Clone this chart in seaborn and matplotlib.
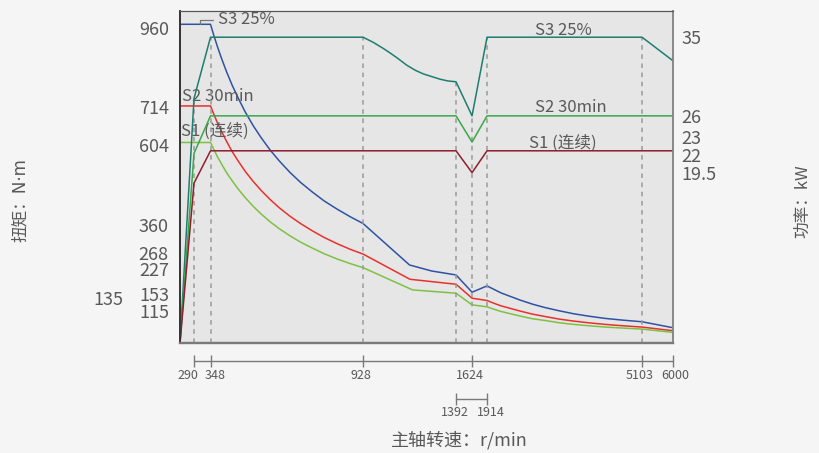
import numpy as np
import pandas as pd
import matplotlib
matplotlib.use("Agg")
import matplotlib.pyplot as plt
import matplotlib.transforms as mtransforms
import seaborn as sns

# ---- speed axis: piecewise-linear spacing between the marked speeds ----
axis_rpm = [0, 290, 348, 928, 1392, 1624, 1914, 5103, 6000]
axis_span = [0, 14, 30.5, 183, 276, 292, 307, 462, 493]

# ---- torque curves (N·m) ----
t_rpm = [0, 348, 360, 375, 390, 410, 430, 455, 480, 510, 540, 575, 610, 650, 690,
         735, 780, 830, 880, 928]
t_rpm_tail = [1914, 2050, 2200, 2400, 2600, 2850, 3100, 3400, 3700, 4000, 4350,
              4700, 5103, 6000]

s3_t_rpm = t_rpm + [1160, 1270, 1392, 1624] + t_rpm_tail
s3_torque = [960, 960, 928, 891, 857, 815, 777, 735, 696, 655, 619, 581, 548, 514, 484,
             455, 428, 403, 380, 360,
             235, 217, 205, 153,
             172, 162, 151, 140, 129, 117, 107, 97, 88, 81, 74, 69, 64, 46]

s2_t_rpm = t_rpm + [1162, 1392, 1624] + t_rpm_tail
s2_torque = [714, 714, 690, 662, 637, 606, 577, 546, 517, 487, 460, 432, 407, 382, 360,
             338, 318, 299, 282, 268,
             192, 177, 135,
             128, 120, 112, 104, 96, 87, 80, 72, 66, 61, 56, 52, 48, 37]

s1_t_rpm = t_rpm + [1175, 1392, 1624] + t_rpm_tail
s1_torque = [604, 604, 584, 560, 539, 512, 489, 462, 438, 412, 389, 365, 344, 323, 304,
             286, 269, 253, 239, 227,
             160, 150, 115,
             109, 102, 95, 88, 81, 73, 68, 61, 56, 52, 48, 45, 42, 32]

# ---- power curves (kW) ----
s3_p_rpm = [0, 290, 348, 928, 980, 1030, 1063, 1100, 1146, 1190, 1229, 1270, 1312,
            1350, 1392, 1624, 1914, 5103, 6000]
s3_power = [0, 28, 35, 35, 34.4, 33.7, 33.2, 32.6, 31.8, 31.2, 30.8, 30.5, 30.2,
            30.0, 29.9, 26, 35, 35, 32.3]

s2_p_rpm = [0, 290, 348, 1392, 1624, 1914, 6000]
s2_power = [0, 21.7, 26, 26, 23, 26, 26]

s1_p_rpm = [0, 290, 348, 1392, 1624, 1914, 6000]
s1_power = [0, 18.3, 22, 22, 19.5, 22, 22]

# ---- guide lines and tick labels ----
guide_rpm = [290, 348, 928, 1392, 1624, 1914, 5103]
guide_top = [28, 35, 35, 29.9, 26, 35, 35]

torque_ticks = [960, 714, 604, 360, 268, 227, 153, 115, 135]
power_ticks = [35, 26, 23, 22, 19.5]
ruler_main = [290, 348, 928, 1624, 5103, 6000]
ruler_sub = [1392, 1914]

c_blue = "#2f52a4"
c_red = "#e8312a"
c_lgreen = "#7dc142"
c_teal = "#1f7d70"
c_green = "#3aa84a"
c_dred = "#8c1f2c"
c_text = "#595959"

sns.set_style("white")
plt.rcParams["font.family"] = ["Noto Sans CJK SC", "DejaVu Sans"]

fig = plt.figure(figsize=(8.19, 4.53), dpi=100, facecolor="#f5f5f5")
ax = fig.add_axes([0.2198, 0.2428, 0.6020, 0.7329])
ax.set_facecolor("#e6e6e6")
ax2 = ax.twinx()

lw = 1.1
for xs, ys, c in [(s3_t_rpm, s3_torque, c_blue),
                  (s2_t_rpm, s2_torque, c_red),
                  (s1_t_rpm, s1_torque, c_lgreen)]:
    df = pd.DataFrame({"rpm": xs, "val": ys})
    sns.lineplot(data=df, x="rpm", y="val", ax=ax, color=c, lw=lw,
                 sort=False, estimator=None)

for xs, ys, c in [(s3_p_rpm, s3_power, c_teal),
                  (s2_p_rpm, s2_power, c_green),
                  (s1_p_rpm, s1_power, c_dred)]:
    df = pd.DataFrame({"rpm": xs, "val": ys})
    sns.lineplot(data=df, x="rpm", y="val", ax=ax2, color=c, lw=lw,
                 sort=False, estimator=None)

ax2.vlines(guide_rpm, 0, guide_top, colors="#9a9a9a", linestyles=(0, (3, 3)),
           lw=1.1, zorder=0)


def fwd(x):
    return np.interp(x, axis_rpm, axis_span)


def inv(u):
    return np.interp(u, axis_span, axis_rpm)


for a in (ax, ax2):
    a.set_xscale("function", functions=(fwd, inv))
    a.set_xlim(0, 6000)
    a.set_xlabel("")
    a.set_ylabel("")
    a.set_xticks([])
ax.set_ylim(0, 1000)
ax2.set_ylim(0, 38)

# spines
for a in (ax, ax2):
    a.spines["left"].set_color("#333333")
    a.spines["top"].set_color("#555555")
    a.spines["right"].set_color("#888888")
    a.spines["bottom"].set_color("#7a7a7a")
    a.spines["bottom"].set_linewidth(1.6)
    a.spines["left"].set_linewidth(1.2)
    a.spines["right"].set_linewidth(1.2)


def shift(lab, dx, dy):
    lab.set_transform(lab.get_transform() +
                      mtransforms.ScaledTranslation(dx / 100, dy / 100, fig.dpi_scale_trans))


# torque ticks
ax.set_yticks(torque_ticks)
ax.set_yticklabels([str(v) for v in torque_ticks])
ax.tick_params(axis="y", length=0, pad=8, labelsize=13, labelcolor=c_text)
left_shift = {960: (0, -4), 714: (0, -1), 604: (0, -2.5), 360: (0, -1.5),
              268: (0, 1.5), 227: (0, -1.5),
              153: (0, -1.5), 115: (0, -6), 135: (-46, 0)}
for lab, v in zip(ax.get_yticklabels(), torque_ticks):
    dx, dy = left_shift.get(v, (0, 0))
    shift(lab, dx, dy)

# power ticks
ax2.set_yticks(power_ticks)
ax2.set_yticklabels(["19.5" if v == 19.5 else str(int(v)) for v in power_ticks])
ax2.tick_params(axis="y", length=0, pad=6, labelsize=13, labelcolor=c_text)
right_shift = {23: (0, 5), 22: (0, -4)}
for lab, v in zip(ax2.get_yticklabels(), power_ticks):
    dx, dy = right_shift.get(v, (0, 0))
    shift(lab, dx, dy)

# curve labels
tk = dict(transform=ax.transAxes, color=c_text, fontsize=12, va="center", ha="left")
ax.text(0.0771, 0.973, "S3 25%", **tk)
ax.text(0.004, 0.744, "S2 30min", **tk)
ax.text(0.002, 0.6386, "S1 (连续)", **tk)
ax.text(0.720, 0.9398, "S3 25%", **tk)
ax.text(0.720, 0.7108, "S2 30min", **tk)
ax.text(0.708, 0.6024, "S1 (连续)", **tk)

# leader from the S3 label to its torque line
ax.plot([311, 311, 359], [960, 974, 974], color="#777777", lw=0.9, clip_on=False)

# speed rulers below the plot
blend = mtransforms.blended_transform_factory(ax.transData, ax.transAxes)
rk = dict(transform=blend, color="#7a7a7a", lw=1.0, clip_on=False)
ax.plot([ruler_main[0], ruler_main[-1]], [-0.0533, -0.0533], **rk)
ax.plot(ruler_main, [-0.0533] * len(ruler_main), ls="none", marker="|", ms=8,
        mew=1.0, color="#7a7a7a", transform=blend, clip_on=False)
ax.plot([ruler_sub[0], ruler_sub[-1]], [-0.1696, -0.1696], **rk)
ax.plot(ruler_sub, [-0.1696] * len(ruler_sub), ls="none", marker="|", ms=8,
        mew=1.0, color="#7a7a7a", transform=blend, clip_on=False)

rl = dict(transform=blend, color=c_text, fontsize=9, ha="center", va="center")
ruler_shift = {290: -6, 348: 5, 928: -2, 1624: -2, 5103: -2, 6000: 2,
               1392: -1, 1914: 4}
for v in ruler_main:
    t = ax.text(v, -0.0964, str(v), **rl)
    shift(t, ruler_shift.get(v, 0), 0)
for v in ruler_sub:
    t = ax.text(v, -0.2108, str(v), **rl)
    shift(t, ruler_shift.get(v, 0), 0)

# axis titles
fig.text(0.5604, 0.0287, "主轴转速：r/min", color=c_text, fontsize=13,
         ha="center", va="center")
fig.text(0.0244, 0.5585, "扭矩：N·m", color=c_text, fontsize=12,
         ha="center", va="center", rotation=90,
         family=["DejaVu Sans", "Noto Sans CJK SC"])
fig.text(0.980, 0.556, "功率：kW", color=c_text, fontsize=12,
         ha="center", va="center", rotation=90)

fig.savefig("out.png", dpi=100, facecolor=fig.get_facecolor())
